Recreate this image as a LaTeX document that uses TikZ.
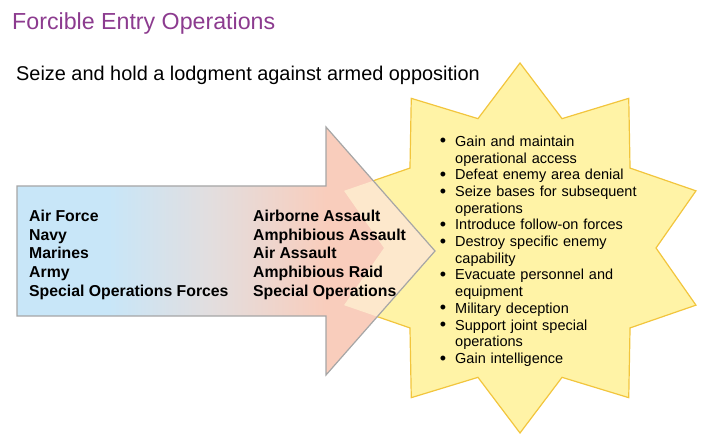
\documentclass[tikz,border=0pt]{standalone}
\usepackage{fontspec}
\setmainfont{Liberation Sans}
\usetikzlibrary{positioning}
\definecolor{titlepurple}{HTML}{8C3B8F}
\definecolor{armblue}{HTML}{C8E6F8}
\definecolor{armgrey}{HTML}{E2DEDF}
\definecolor{armpeach}{HTML}{F9CDBC}
\definecolor{starfill}{HTML}{FFF3A6}
\definecolor{starline}{HTML}{F2C53D}
\definecolor{overlap}{HTML}{FDE8CC}
\pgfdeclarehorizontalshading{armshade}{100bp}{color(0bp)=(armblue); color(25bp)=(armblue); color(36bp)=(armblue); color(48bp)=(armgrey); color(62bp)=(armpeach); color(75bp)=(armpeach); color(100bp)=(armpeach)}
\newcommand{\starpath}{plot[samples at={0,...,19}] ({90+18*\x}:{ifthenelse(mod(\x,2)==0,185,136)}) -- cycle}
\newcommand{\armpath}{(17,186) -- (326,186) -- (326,127) -- (435,251) -- (326,375) -- (326,316) -- (17,316) -- cycle}
\setlength{\leftmargini}{18pt}
\renewcommand{\labelitemi}{\smash{\raisebox{-0.6pt}{\fontsize{18}{16}\selectfont\textbullet}}}
\begin{document}
\begin{tikzpicture}[x=1pt, y=-1pt,
    title/.style={anchor=base west, inner sep=0, font=\fontsize{23.2}{28}\selectfont, text=titlepurple},
    lead/.style={anchor=base west, inner sep=0, font=\fontsize{19.9}{23}\selectfont},
    force/.style={anchor=base west, inner sep=0, align=left, font=\fontsize{15.8}{18.6}\selectfont\bfseries},
    goal/.style={anchor=north west, inner sep=0, align=left, text width=240pt, font=\fontsize{14.5}{16.7}\selectfont}
]
\useasboundingbox (0,0) rectangle (703,435);

% Star
\begin{scope}[shift={(520,248)}]
\filldraw[fill=starfill, draw=starline, line width=1.2pt, line join=miter] \starpath;
\end{scope}

% Arrow
\shade[shading=armshade] \armpath;
\begin{scope}
\clip \armpath;
\fill[overlap, shift={(520,248)}] \starpath;
\end{scope}
\draw[draw=black!35, line width=1.2pt, line join=miter] \armpath;

% Headings
\node[title] (title) at (12,30) {Forcible Entry Operations};
\node[lead] (lead) at (16,81) {Seize and hold a lodgment against armed opposition};

% Forces and methods (base = last line)
\node[force] (forces) at (29,296) {Air Force\\Navy\\Marines\\Army\\Special Operations Forces};
\node[force] (methods) at (253,296) {Airborne Assault\\Amphibious Assault\\Air Assault\\Amphibious Raid\\Special Operations};

% Objectives
\node[goal] (goals) at (437,121.5) {%
\begin{itemize}
\setlength{\itemsep}{0pt}\setlength{\parskip}{0pt}\setlength{\parsep}{0pt}
\setlength{\labelsep}{9pt}\setlength{\topsep}{0pt}
\item Gain and maintain\newline operational access
\item Defeat enemy area denial
\item Seize bases for subsequent\newline operations
\item Introduce follow-on forces
\item Destroy specific enemy\newline capability
\item Evacuate personnel and\newline equipment
\item Military deception
\item Support joint special\newline operations
\item Gain intelligence
\end{itemize}};
\end{tikzpicture}
\end{document}
